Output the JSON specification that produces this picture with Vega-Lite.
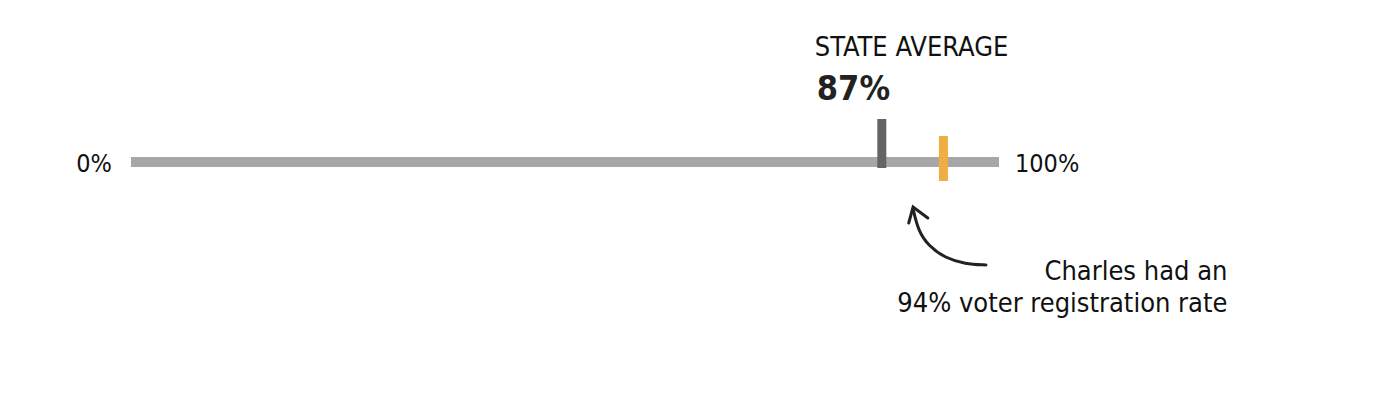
{
  "$schema": "https://vega.github.io/schema/vega-lite/v6.json",
  "width": 1390,
  "height": 406,
  "autosize": {"type": "fit", "contains": "padding"},
  "padding": 0,
  "background": "white",
  "config": {"view": {"stroke": null}},
  "datasets": {
    "track": [{"start": 0, "end": 100, "row": 162}],
    "markers": [
      {"name": "State average", "value": 86.5},
      {"name": "Charles", "value": 93.6}
    ],
    "curve": [
      {"i": 1, "px": 98.5, "py": 265},
      {"i": 2, "px": 96.1, "py": 264},
      {"i": 3, "px": 93.8, "py": 258},
      {"i": 4, "px": 91.9, "py": 246},
      {"i": 5, "px": 90.7, "py": 231},
      {"i": 6, "px": 90.1, "py": 209}
    ],
    "head": [
      {"i": 1, "px": 89.6, "py": 223},
      {"i": 2, "px": 90.1, "py": 207},
      {"i": 3, "px": 91.8, "py": 218}
    ]
  },
  "layer": [
    {
      "data": {"name": "track"},
      "mark": {"type": "rule", "strokeWidth": 10, "color": "#a7a7a9", "strokeCap": "butt"},
      "encoding": {
        "x": {"field": "start", "type": "quantitative", "scale": {"domain": [-15.092, 145.046], "nice": false, "zero": false}, "axis": null},
        "x2": {"field": "end"},
        "y": {"field": "row", "type": "quantitative", "scale": {"domain": [0, 406], "reverse": true, "nice": false, "zero": false}, "axis": null}
      }
    },
    {
      "data": {"name": "markers"},
      "transform": [{"filter": "datum.name === 'State average'"}],
      "mark": {"type": "rule", "strokeWidth": 9, "color": "#646464", "strokeCap": "butt"},
      "encoding": {
        "x": {"field": "value", "type": "quantitative"},
        "y": {"datum": 119, "type": "quantitative"},
        "y2": {"datum": 168}
      }
    },
    {
      "data": {"name": "markers"},
      "transform": [{"filter": "datum.name === 'Charles'"}],
      "mark": {"type": "rule", "strokeWidth": 9, "color": "#efae42", "strokeCap": "butt"},
      "encoding": {
        "x": {"field": "value", "type": "quantitative"},
        "y": {"datum": 136, "type": "quantitative"},
        "y2": {"datum": 181}
      }
    },
    {
      "data": {"values": [{"t": "0%", "v": 0}]},
      "mark": {"type": "text", "align": "right", "baseline": "alphabetic", "dx": -19, "font": "DejaVu Sans Condensed", "fontSize": 25, "color": "#111111"},
      "encoding": {"x": {"field": "v", "type": "quantitative"}, "y": {"datum": 172, "type": "quantitative"}, "text": {"field": "t"}}
    },
    {
      "data": {"values": [{"t": "100%", "v": 100}]},
      "mark": {"type": "text", "align": "left", "baseline": "alphabetic", "dx": 16, "font": "DejaVu Sans Condensed", "fontSize": 25, "color": "#111111"},
      "encoding": {"x": {"field": "v", "type": "quantitative"}, "y": {"datum": 172, "type": "quantitative"}, "text": {"field": "t"}}
    },
    {
      "data": {"values": [{"t": "STATE AVERAGE", "v": 86.5}]},
      "mark": {"type": "text", "align": "left", "baseline": "alphabetic", "dx": -67, "font": "DejaVu Sans Condensed", "fontSize": 27, "color": "#111111"},
      "encoding": {"x": {"field": "v", "type": "quantitative"}, "y": {"datum": 56, "type": "quantitative"}, "text": {"field": "t"}}
    },
    {
      "data": {"values": [{"t": "87%", "v": 86.5}]},
      "mark": {"type": "text", "align": "left", "baseline": "alphabetic", "dx": -65, "font": "DejaVu Sans Condensed", "fontWeight": "bold", "fontSize": 34, "color": "#222222"},
      "encoding": {"x": {"field": "v", "type": "quantitative"}, "y": {"datum": 100, "type": "quantitative"}, "text": {"field": "t"}}
    },
    {
      "data": {"values": [{"t": "Charles had an", "v": 93.6, "line": 280}, {"t": "94% voter registration rate", "v": 93.6, "line": 312}]},
      "mark": {"type": "text", "align": "right", "baseline": "alphabetic", "dx": 284, "font": "DejaVu Sans Condensed", "fontSize": 27, "color": "#111111"},
      "encoding": {"x": {"field": "v", "type": "quantitative"}, "y": {"field": "line", "type": "quantitative"}, "text": {"field": "t"}}
    },
    {
      "data": {"name": "curve"},
      "mark": {"type": "line", "interpolate": "basis", "strokeWidth": 3, "color": "#222222", "strokeCap": "round"},
      "encoding": {"x": {"field": "px", "type": "quantitative"}, "y": {"field": "py", "type": "quantitative"}, "order": {"field": "i"}}
    },
    {
      "data": {"name": "head"},
      "mark": {"type": "line", "strokeWidth": 3, "color": "#222222", "strokeCap": "round", "strokeJoin": "miter"},
      "encoding": {"x": {"field": "px", "type": "quantitative"}, "y": {"field": "py", "type": "quantitative"}, "order": {"field": "i"}}
    }
  ]
}
